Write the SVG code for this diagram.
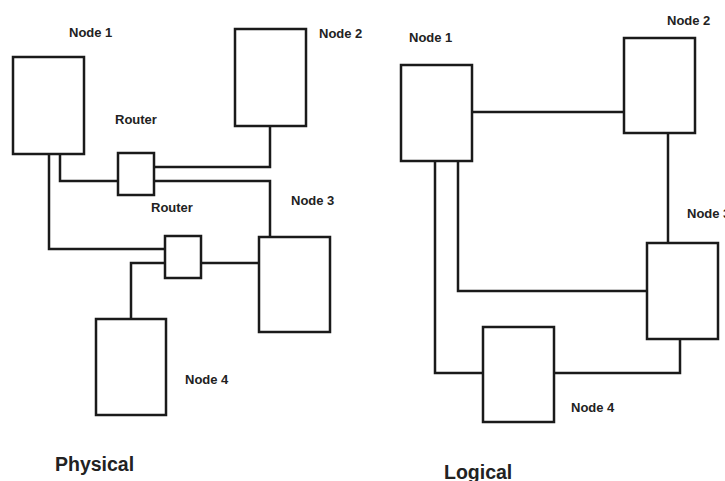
<svg xmlns="http://www.w3.org/2000/svg" width="725" height="481" viewBox="0 0 725 481">
<style>
.box{fill:#fff;stroke:#1a1a1a;stroke-width:2.5}
.ln{fill:none;stroke:#1a1a1a;stroke-width:2.5}
.lbl{font-family:"Liberation Sans",Arial,sans-serif;font-weight:bold;font-size:13px;fill:#222}
.ttl{font-family:"Liberation Sans",Arial,sans-serif;font-weight:bold;font-size:19.5px;fill:#222}
</style>
<rect width="725" height="481" fill="#fff"/>
<g id="connectors">
<polyline class="ln" points="60,154 60,181 118,181"/>
<polyline class="ln" points="49,154 49,249 165,249"/>
<polyline class="ln" points="154,167 270,167 270,126"/>
<polyline class="ln" points="154,181 270,181 270,237"/>
<polyline class="ln" points="201,263 259,263"/>
<polyline class="ln" points="165,263 131,263 131,319"/>
<polyline class="ln" points="472,112 624,112"/>
<polyline class="ln" points="668,133 668,243"/>
<polyline class="ln" points="458,161 458,291 647,291"/>
<polyline class="ln" points="435,161 435,373 483,373"/>
<polyline class="ln" points="554,373 680,373 680,339"/>
</g>
<g id="p-node1"><rect class="box" x="13" y="57" width="71" height="97"/><text class="lbl" x="69" y="37">Node 1</text></g>
<g id="p-node2"><rect class="box" x="235" y="29" width="71" height="97"/><text class="lbl" x="319" y="38">Node 2</text></g>
<g id="p-router1"><rect class="box" x="118" y="153" width="36" height="42"/><text class="lbl" x="115" y="124">Router</text></g>
<g id="p-router2"><rect class="box" x="165" y="236" width="36" height="42"/><text class="lbl" x="151" y="212">Router</text></g>
<g id="p-node3"><rect class="box" x="259" y="237" width="71" height="95"/><text class="lbl" x="291" y="205">Node 3</text></g>
<g id="p-node4"><rect class="box" x="96" y="319" width="70" height="96"/><text class="lbl" x="185" y="384">Node 4</text></g>
<g id="l-node1"><rect class="box" x="401" y="65" width="71" height="96"/><text class="lbl" x="409" y="42">Node 1</text></g>
<g id="l-node2"><rect class="box" x="624" y="38" width="71" height="95"/><text class="lbl" x="667" y="25">Node 2</text></g>
<g id="l-node3"><rect class="box" x="647" y="243" width="71" height="96"/><text class="lbl" x="687" y="218">Node 3</text></g>
<g id="l-node4"><rect class="box" x="483" y="327" width="71" height="95"/><text class="lbl" x="571" y="412">Node 4</text></g>
<text class="ttl" x="55" y="471">Physical</text>
<text class="ttl" x="444" y="479">Logical</text>
</svg>
